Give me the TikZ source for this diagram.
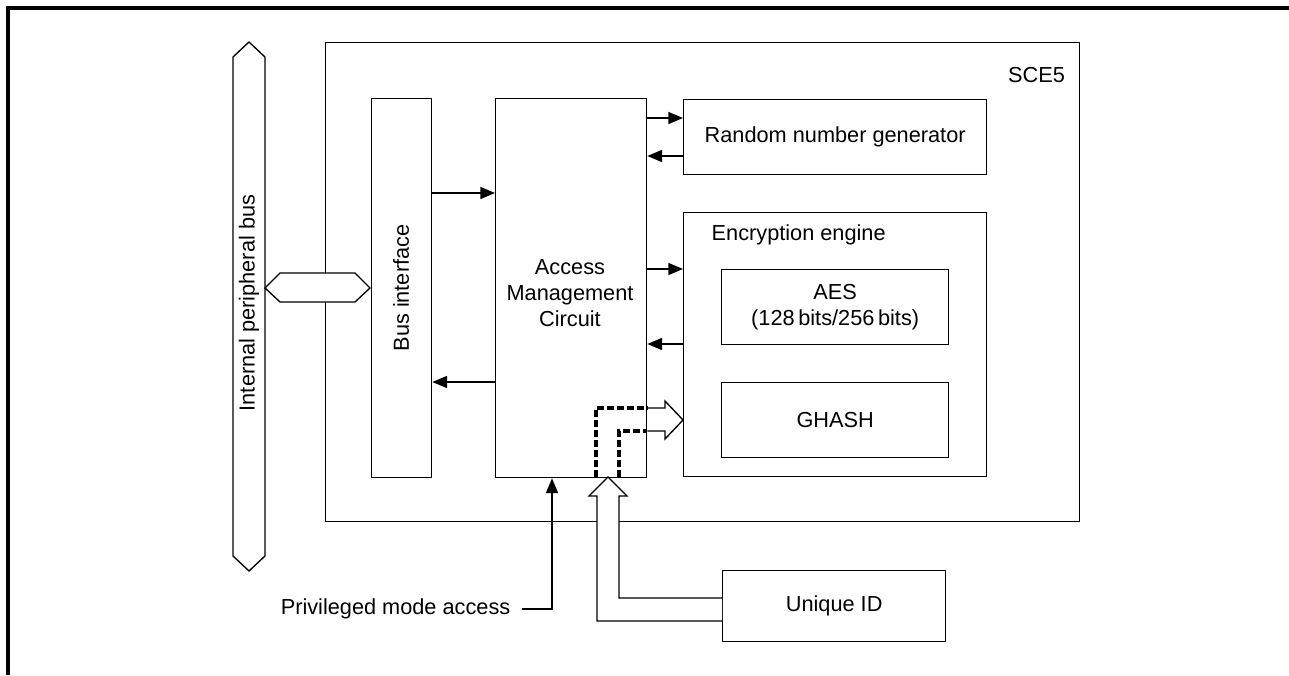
\documentclass[tikz,border=0pt]{standalone}
\usepackage{fontspec}
\setmainfont{Liberation Sans}
\usepackage{tikz}
\usetikzlibrary{arrows.meta, positioning, calc}

\tikzset{
  blk/.style={draw, line width=1pt, inner sep=0pt, anchor=north west, align=center},
  lbl/.style={font=\fontsize{16.3}{19.5}\selectfont, align=center},
  arr/.style={-{Triangle[length=11pt,width=9pt]}, line width=1pt},
  hollow/.style={draw, line width=1pt, fill=white},
  dashline/.style={line width=2.6pt, dash pattern=on 5pt off 2.5pt},
}

\begin{document}
\begin{tikzpicture}[x=0.75pt, y=-0.75pt, font=\fontsize{16.3}{19.5}\selectfont]
    \useasboundingbox (0,0) rectangle (1289,675);
    \draw[line width=2.4pt] (8,675) -- (8,8) -- (1289,8);

    % blocks
    \node[blk, minimum width=565.5pt, minimum height=359.25pt] (sce) at (325,42) {};
    \node[lbl, anchor=east, xshift=-8pt, yshift=-25pt] (scelbl) at (sce.north east) {SCE5};
    \node[blk, minimum width=45pt, minimum height=284.25pt] (busif) at (371,98) {};
    \node[lbl, rotate=90] (busiflbl) at (401,288) {Bus interface};
    \node[blk, minimum width=113.25pt, minimum height=284.25pt] (amc) at (495,98) {};
    \node[lbl] (amclbl) at (570,293) {Access\\Management\\Circuit};
    \node[blk, minimum width=227.25pt, minimum height=56.25pt] (rng) at (683,99)
      {Random number generator};
    \node[blk, minimum width=227.25pt, minimum height=198pt] (enc) at (683,212) {};
    \node[lbl, anchor=west, xshift=18pt, yshift=-17pt] (enclbl) at (enc.north west) {Encryption engine};
    \node[blk, minimum width=170.25pt, minimum height=56.25pt] (aes) at (721,269)
      {AES\\(128\,bits/256\,bits)};
    \node[blk, minimum width=170.25pt, minimum height=56.25pt] (ghash) at (721,382) {GHASH};
    \node[blk, minimum width=167.25pt, minimum height=53.25pt] (uid) at (722,570) {Unique ID};

    % internal peripheral bus
    \draw[hollow] (249,42) -- (265,57) -- (265,556) -- (249,571) -- (233,556) -- (233,57) -- cycle;
    \node[lbl, rotate=90] (buslbl) at (249,303) {Internal peripheral bus};
    \draw[hollow] (265,288) -- (280,273) -- (355,273) -- (370,288) -- (355,302) -- (280,302) -- cycle;

    % connectors
    \draw[arr] (busif.east |- 0,193) -- (amc.west |- 0,193);
    \draw[arr] (amc.west |- 0,382) -- (busif.east |- 0,382);
    \draw[arr] (amc.east |- 0,118) -- (rng.west |- 0,118);
    \draw[arr] (rng.west |- 0,156) -- (amc.east |- 0,156);
    \draw[arr] (amc.east |- 0,269) -- (enc.west |- 0,269);
    \draw[arr] (enc.west |- 0,344) -- (amc.east |- 0,344);

    % unique ID to access management circuit
    \draw[hollow] (uid.west |- 0,621) -- (597,621) -- (597,496) -- (589,496) -- (608,477)
      -- (627,496) -- (619,496) -- (619,598) -- (uid.west |- 0,598);
    \draw[dashline] (596,477) -- (596,408) -- (amc.east |- 0,408);
    \draw[dashline] (619,477) -- (619,431) -- (amc.east |- 0,431);
    \draw[line width=1pt, line join=miter] (amc.east |- 0,408) -- (665,408) -- (665,401) -- (enc.west |- 0,420)
      -- (665,439) -- (665,431) -- (amc.east |- 0,431);

    % privileged mode access
    \node[lbl, anchor=east] (priv) at (515,609) {Privileged mode access};
    \draw[arr] ([xshift=5pt]priv.east) -- (552,609) -- (552,0 |- amc.south);
\end{tikzpicture}
\end{document}
